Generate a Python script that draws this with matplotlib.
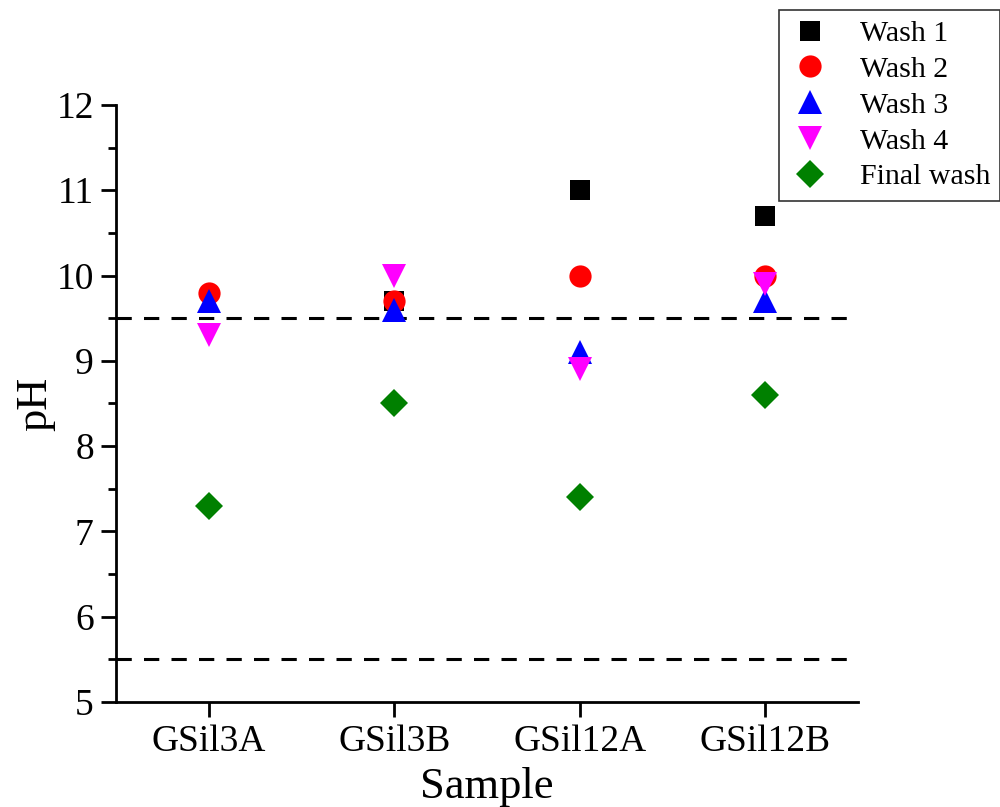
import numpy as np
import matplotlib.pyplot as plt

plt.rcParams["font.family"] = ["Liberation Serif", "DejaVu Serif"]

samples = ["GSil3A", "GSil3B", "GSil12A", "GSil12B"]
wash1 = [np.nan, 9.7, 11.0, 10.7]
wash2 = [9.8, 9.7, 10.0, 10.0]
wash3 = [9.7, 9.6, 9.1, 9.7]
wash4 = [9.3, 10.0, 8.9, 9.9]
final_wash = [7.3, 8.5, 7.4, 8.6]
limits = [9.5, 5.5]

x = np.arange(1, len(samples) + 1)

fig = plt.figure(figsize=(10, 8.07), dpi=100)
ax = fig.add_axes([0.116, 0.130, 0.742, 0.740])

for lim in limits:
    ax.axhline(lim, color="black", ls=(0, (5, 4)), lw=2.2, zorder=1)

series = [
    (wash1, "s", "black", 14, "Wash 1"),
    (wash2, "o", "red", 16, "Wash 2"),
    (wash3, "^", "blue", 17, "Wash 3"),
    (wash4, "v", "magenta", 17, "Wash 4"),
    (final_wash, "D", "green", 14, "Final wash"),
]
handles = []
for vals, mk, col, ms, lab in series:
    h, = ax.plot(x, vals, ls="none", marker=mk, color=col, ms=ms,
                 markeredgewidth=0, label=lab, zorder=3)
    handles.append(h)

ax.set_xlim(0.5, 4.5)
ax.set_ylim(5, 12)
ax.set_xticks(x)
ax.set_xticklabels(samples)
ax.set_yticks(np.arange(5, 13, 1))
ax.set_yticks(np.arange(5.5, 12, 1), minor=True)

for s in ["top", "right"]:
    ax.spines[s].set_visible(False)
for s in ["left", "bottom"]:
    ax.spines[s].set_linewidth(2)

ax.tick_params(axis="both", which="major", direction="out", length=11, width=2,
               labelsize=27, pad=5)
ax.tick_params(axis="y", which="minor", direction="out", length=6, width=2)

ax.set_xlabel("Sample", fontsize=32, labelpad=6)
ax.set_ylabel("pH", fontsize=32, labelpad=1)

leg = fig.legend(handles=handles, loc="upper left", bbox_to_anchor=(0.779, 0.988),
                 fontsize=21.5, frameon=True, fancybox=False, edgecolor="black",
                 handlelength=1.4, handletextpad=0.95, labelspacing=0.3,
                 borderpad=0.35, borderaxespad=0.0)
leg.get_frame().set_linewidth(1.2)

fig.savefig("out.png", dpi=100)
